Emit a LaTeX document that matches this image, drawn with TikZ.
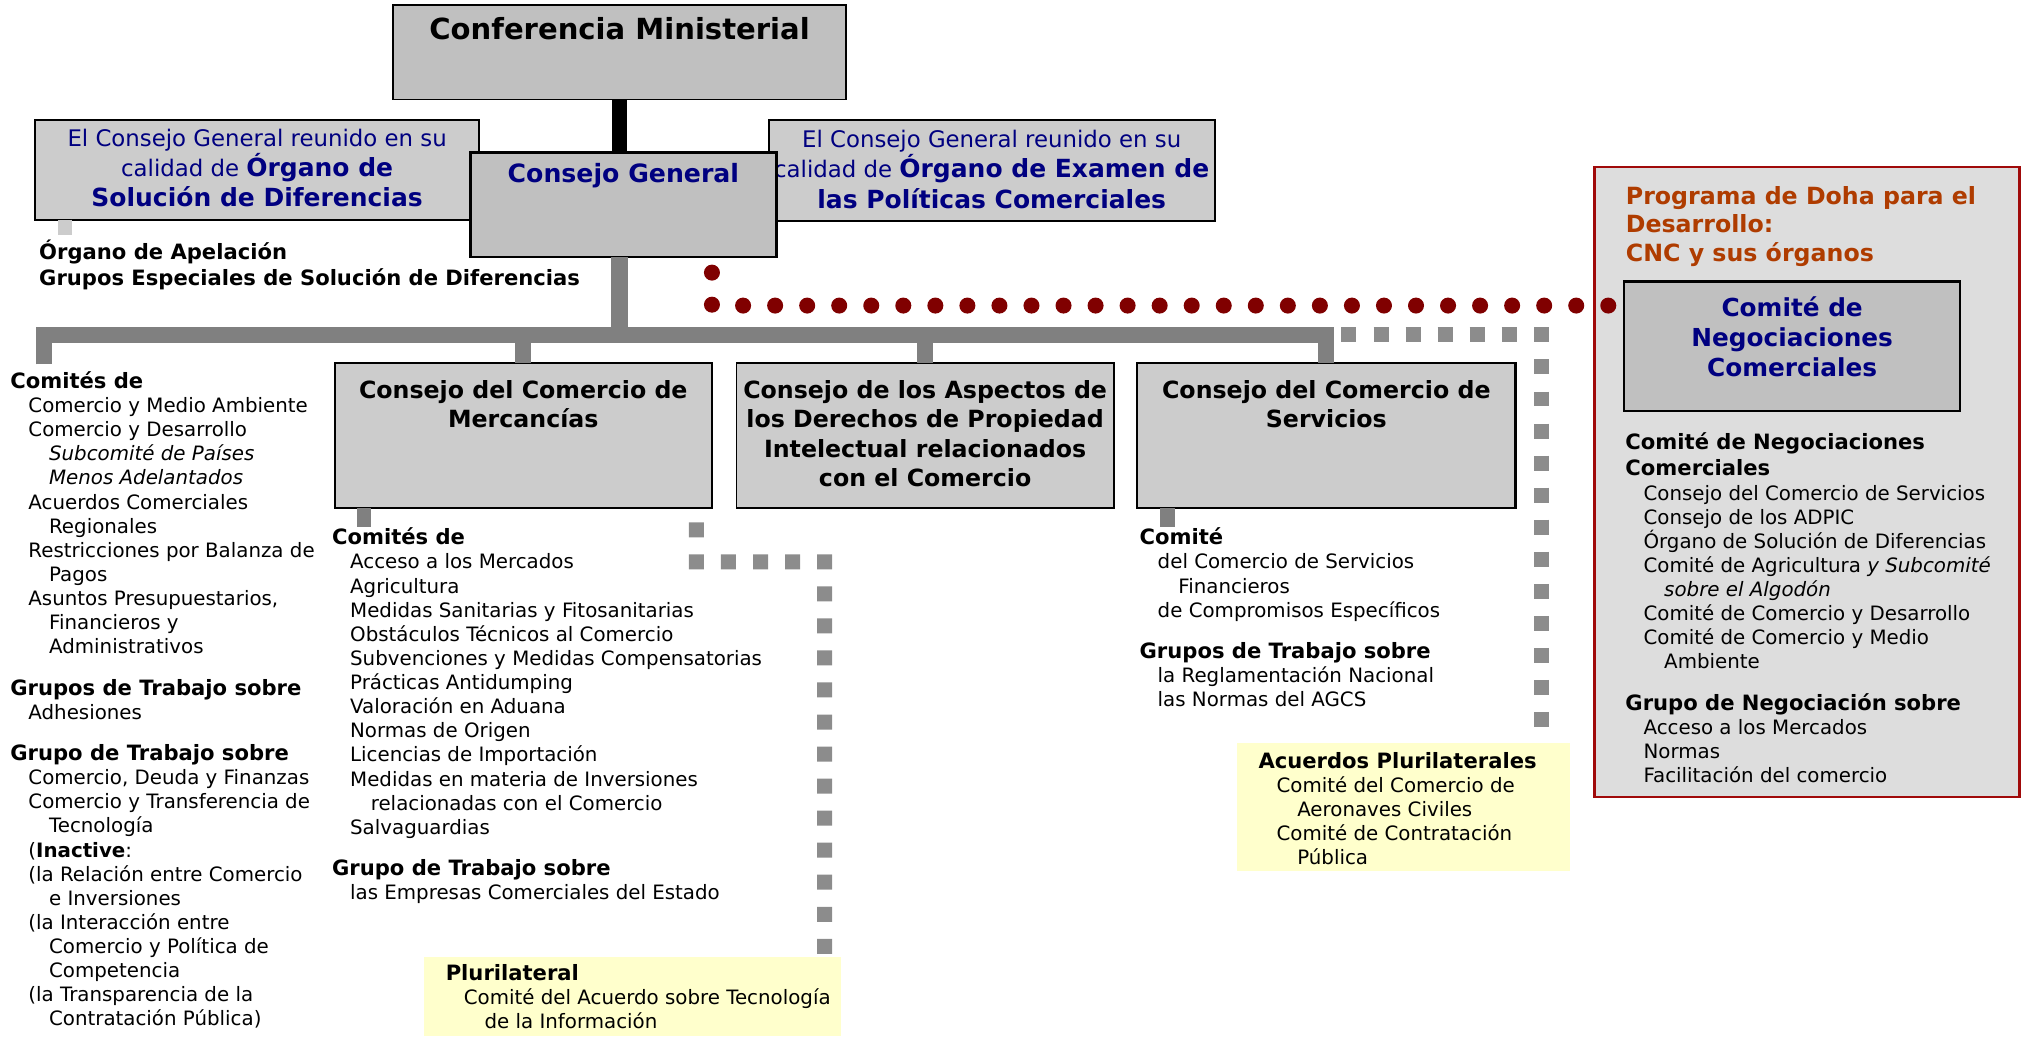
\documentclass[tikz,border=0pt]{standalone}
\usepackage{fontspec}
\setmainfont{DejaVu Sans}
\usetikzlibrary{calc}
\definecolor{boxgray}{RGB}{192,192,192}
\definecolor{boxlight}{RGB}{204,204,204}
\definecolor{navytxt}{RGB}{0,0,128}
\definecolor{dotred}{RGB}{128,0,0}
\definecolor{linegray}{RGB}{128,128,128}
\definecolor{sqgray}{RGB}{140,140,140}
\definecolor{paleyellow}{RGB}{255,255,204}
\definecolor{dohabg}{RGB}{221,221,221}
\definecolor{dohared}{RGB}{160,10,10}
\definecolor{dohatitle}{RGB}{175,60,0}
\newcommand\bodyfont{\fontsize{9.2}{11.2}\selectfont}
\newcommand\headtxt[1]{{\fontsize{9.8}{11.2}\selectfont\bfseries #1}}
\newcommand\indA{\hspace*{8.4pt}}
\newcommand\indB{\hspace*{18pt}}
\newcommand\fstrut[1]{\rule{0pt}{#1}}
\tikzset{
  orgbox/.style={draw=black, line width=0.9pt, inner sep=0pt, outer sep=0pt},
  listtxt/.style={anchor=north west, inner sep=0pt, outer sep=0pt, align=left, font=\bodyfont, text=black},
  titletxt/.style={anchor=north, inner sep=0pt, outer sep=0pt, align=center, text=black},
  trunk/.style={draw=linegray, line width=7.5pt, line join=miter},
  stubline/.style={draw=linegray, line width=6.6pt},
  sqline/.style={draw=sqgray, line width=6.96pt, dash pattern=on 6.96pt off 7.92pt, line join=miter},
  dotline/.style={draw=dotred, line width=7.44pt, line cap=round, dash pattern=on 0pt off 14.88pt},
}
\begin{document}
\begin{tikzpicture}[x=0.6pt,y=-0.6pt]
\useasboundingbox (0,0) rectangle (1568,804);

% ---------- Doha programme box ----------
\node[orgbox, draw=dohared, line width=1pt, fill=dohabg, minimum width=197.4pt, minimum height=292.8pt] (doha) at (1398.5,373) {};
\node[anchor=north west, inner sep=0pt, align=left, text=dohatitle, font=\fontsize{11}{13.2}\selectfont\bfseries] (dohatitle) at (1258,137.7)
  {\fstrut{12pt}Programa de Doha para el\\Desarrollo:\\CNC y sus órganos};
\node[orgbox, line width=1.1pt, fill=boxgray, minimum width=156pt, minimum height=60pt] (cnc) at (1387,268) {};
\node[titletxt, text=navytxt, font=\fontsize{11.5}{14}\selectfont\bfseries] (cnctxt) at (1387,224.2)
  {\fstrut{12.5pt}Comité de\\Negociaciones\\Comerciales};
\node[listtxt] (dohalist) at (1258,331) {\fstrut{10pt}\headtxt{Comité de Negociaciones}\\[1.2pt]
\headtxt{Comerciales}\\
\indA Consejo del Comercio de Servicios\\
\indA Consejo de los ADPIC\\
\indA Órgano de Solución de Diferencias\\
\indA Comité de Agricultura \textit{y Subcomité}\\
\indB\textit{sobre el Algodón}\\
\indA Comité de Comercio y Desarrollo\\
\indA Comité de Comercio y Medio\\
\indB Ambiente\\[8pt]
\headtxt{Grupo de Negociación sobre}\\
\indA Acceso a los Mercados\\
\indA Normas\\
\indA Facilitación del comercio};

% ---------- Ministerial Conference ----------
\node[orgbox, fill=boxgray, minimum width=210.6pt, minimum height=43.8pt] (cm) at (479.5,40.5) {};
\node[anchor=base, inner sep=0pt, font=\fontsize{13.5}{16}\selectfont\bfseries] (cmtxt) at (479.5,30.4) {Conferencia Ministerial};

% ---------- DSB and TPRB ----------
\node[orgbox, fill=boxlight, minimum width=206.4pt, minimum height=46.2pt] (dsb) at (199,131.5) {};
\node[titletxt, text=navytxt, font=\fontsize{10.6}{14}\selectfont] (dsbtxt) at (199,93.4)
  {\fstrut{12pt}El Consejo General reunido en su\\
   calidad de {\fontsize{11.6}{14}\selectfont\bfseries Órgano de}\\
   {\fontsize{11.6}{14}\selectfont\bfseries Solución de Diferencias}};
\node[orgbox, fill=boxlight, minimum width=207pt, minimum height=46.8pt] (tprb) at (767.5,132) {};
\node[titletxt, text=navytxt, font=\fontsize{10.6}{14}\selectfont] (tprbtxt) at (767.5,94.4)
  {\fstrut{12pt}El Consejo General reunido en su\\
   calidad de {\fontsize{11.6}{14}\selectfont\bfseries Órgano de Examen de}\\
   {\fontsize{11.6}{14}\selectfont\bfseries las Políticas Comerciales}};

% ---------- General Council ----------
\node[orgbox, line width=1.1pt, fill=boxgray, minimum width=142.2pt, minimum height=48.6pt] (cg) at (482.5,158.5) {};
\draw[black, line width=7.2pt] (cm.south) -- (cm.south |- cg.north);
\node[anchor=base, inner sep=0pt, text=navytxt, font=\fontsize{11.7}{14}\selectfont\bfseries] (cgtxt) at (482.5,141.1) {Consejo General};

% DSB sub bodies
\draw[draw=boxlight, line width=6.6pt] ($(dsb.south west)+(23.5,0)$) -- ($(dsb.south west)+(23.5,12)$);
\node[anchor=north west, inner sep=0pt, align=left, font=\fontsize{9.8}{12}\selectfont\bfseries] (dsbbodies) at (30,184)
  {\fstrut{10pt}Órgano de Apelación\\Grupos Especiales de Solución de Diferencias};

% ---------- Councils ----------
\coordinate (barL) at (34,259.2);
\coordinate (lstub) at (34,282);
\node[orgbox, fill=boxlight, minimum width=175.2pt, minimum height=67.2pt] (merc) at (405,337) {};
\node[orgbox, fill=boxlight, minimum width=175.2pt, minimum height=67.2pt] (trips) at (716,337) {};
\node[orgbox, line width=1.1pt, fill=boxlight, minimum width=175.8pt, minimum height=67.2pt] (serv) at (1026.5,337) {};

\draw[trunk] (cm.south |- cg.south) -- (cm.south |- barL);
\draw[trunk] (lstub) -- (barL) -- (serv.north |- barL) -- (serv.north);
\draw[trunk] (merc.north |- barL) -- (merc.north);
\draw[trunk] (trips.north |- barL) -- (trips.north);

\node[titletxt, font=\fontsize{11}{13.5}\selectfont\bfseries] (merctxt) at (405,288.7)
  {\fstrut{12pt}Consejo del Comercio de\\Mercancías};
\node[titletxt, font=\fontsize{11}{13.5}\selectfont\bfseries] (tripstxt) at (716,288.7)
  {\fstrut{12pt}Consejo de los Aspectos de\\los Derechos de Propiedad\\Intelectual relacionados\\con el Comercio};
\node[titletxt, font=\fontsize{11}{13.5}\selectfont\bfseries] (servtxt) at (1026.5,288.7)
  {\fstrut{12pt}Consejo del Comercio de\\Servicios};

\draw[stubline] ($(merc.south west)+(22.5,0)$) -- ($(merc.south west)+(22.5,15)$);
\draw[stubline] ($(serv.south west)+(23.5,0)$) -- ($(serv.south west)+(23.5,15)$);

% ---------- plurilateral boxes ----------
\node[inner sep=0pt, outer sep=0pt, fill=paleyellow, minimum width=154.8pt, minimum height=59.4pt] (pluriA) at (1086,624.5) {};
\node[inner sep=0pt, outer sep=0pt, fill=paleyellow, minimum width=193.8pt, minimum height=36.6pt] (pluriB) at (489.5,771.5) {};

% ---------- dotted / square connectors ----------
\draw[dotline] ($(cg.south east)+(-50,12)$) -- ($(cg.south east)+(-50,37.5)$) -- ($(cnc.west)+(-12,-31.5)$);
\coordinate (sqc) at (1192.8,259.2);
\draw[sqline] ($(serv.north |- barL)+(11.7,0)$) -- (sqc) -- (sqc |- pluriA.north);
\coordinate (mq1) at (539,434.8);
\coordinate (mq2) at (638.2,434.8);
\draw[sqline] ($(merc.south east)+(-12,11.2)$) -- (mq1) -- (mq2) -- (mq2 |- pluriB.north);

% ---------- lists ----------
\node[listtxt] (leftlist) at (8,284) {\fstrut{10pt}\headtxt{Comités de}\\
\indA Comercio y Medio Ambiente\\
\indA Comercio y Desarrollo\\
\indB\textit{Subcomité de Países}\\
\indB\textit{Menos Adelantados}\\
\indA Acuerdos Comerciales\\
\indB Regionales\\
\indA Restricciones por Balanza de\\
\indB Pagos\\
\indA Asuntos Presupuestarios,\\
\indB Financieros y\\
\indB Administrativos\\[8pt]
\headtxt{Grupos de Trabajo sobre}\\
\indA Adhesiones\\[8pt]
\headtxt{Grupo de Trabajo sobre}\\
\indA Comercio, Deuda y Finanzas\\
\indA Comercio y Transferencia de\\
\indB Tecnología\\
\indA(\textbf{Inactive}:\\
\indA(la Relación entre Comercio\\
\indB e Inversiones\\
\indA(la Interacción entre\\
\indB Comercio y Política de\\
\indB Competencia\\
\indA(la Transparencia de la\\
\indB Contratación Pública)};

\node[listtxt] (merclist) at (257,405) {\fstrut{10pt}\headtxt{Comités de}\\
\indA Acceso a los Mercados\\
\indA Agricultura\\
\indA Medidas Sanitarias y Fitosanitarias\\
\indA Obstáculos Técnicos al Comercio\\
\indA Subvenciones y Medidas Compensatorias\\
\indA Prácticas Antidumping\\
\indA Valoración en Aduana\\
\indA Normas de Origen\\
\indA Licencias de Importación\\
\indA Medidas en materia de Inversiones\\
\indB relacionadas con el Comercio\\
\indA Salvaguardias\\[8pt]
\headtxt{Grupo de Trabajo sobre}\\
\indA las Empresas Comerciales del Estado};

\node[listtxt] (servlist) at (882,405) {\fstrut{10pt}\headtxt{Comité}\\
\indA del Comercio de Servicios\\
\indB Financieros\\
\indA de Compromisos Específicos\\[8pt]
\headtxt{Grupos de Trabajo sobre}\\
\indA la Reglamentación Nacional\\
\indA las Normas del AGCS};

\node[listtxt] (pluriAtxt) at (974,578) {\fstrut{10pt}\headtxt{Acuerdos Plurilaterales}\\
\indA Comité del Comercio de\\
\indB Aeronaves Civiles\\
\indA Comité de Contratación\\
\indB Pública};

\node[listtxt] (pluriBtxt) at (345,742) {\fstrut{10pt}\headtxt{Plurilateral}\\
\indA Comité del Acuerdo sobre Tecnología\\
\indB de la Información};
\end{tikzpicture}
\end{document}
